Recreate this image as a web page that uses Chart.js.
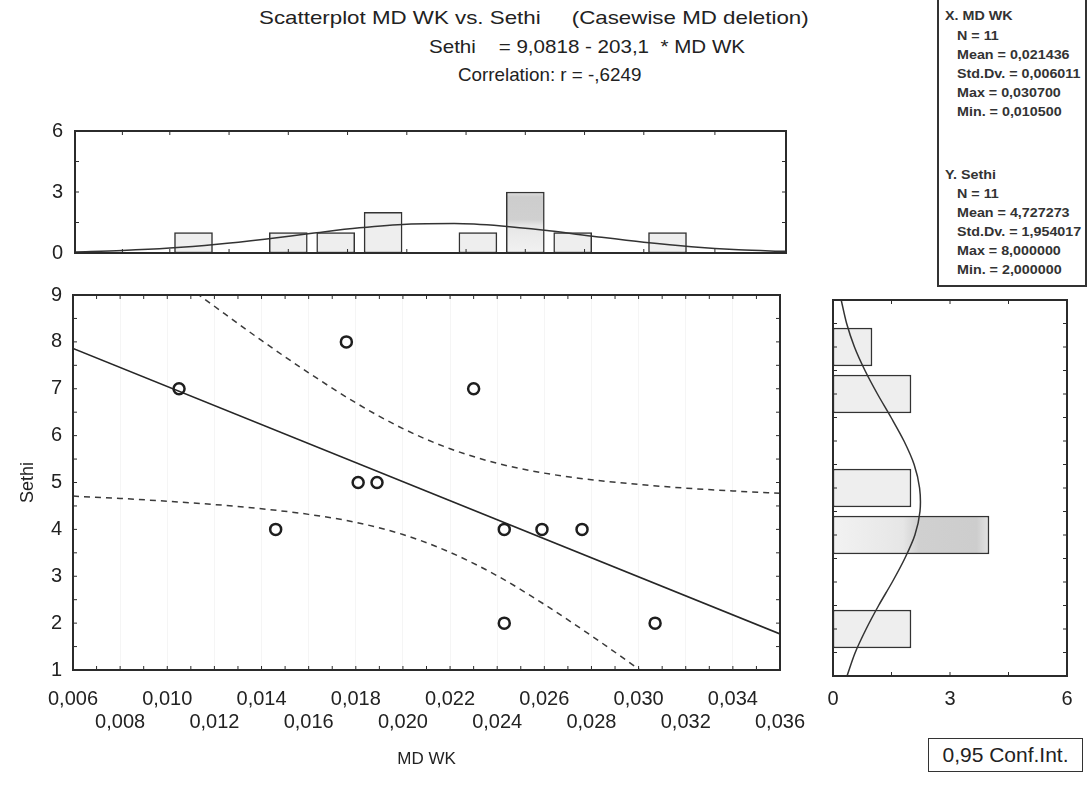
<!DOCTYPE html>
<html>
<head>
<meta charset="utf-8">
<script src="https://cdn.jsdelivr.net/npm/chart.js@4.4.1/dist/chart.umd.min.js"></script>
<style>
  html, body { margin: 0; padding: 0; background: #fff; }
  body { width: 1087px; height: 788px; position: relative; overflow: hidden;
         font-family: "Liberation Sans", Arial, sans-serif; color: #222; }
  .abs { position: absolute; white-space: pre; }
  .ttl { font-size: 19px; line-height: 20px; transform-origin: 0 50%; }
  #stats { left: 937px; top: -2px; width: 146px; height: 285px; border: 2px solid #333; }
  #stats div { position: absolute; font-size: 13.5px; font-weight: bold; color: #333; white-space: pre;
               transform-origin: 0 50%; transform: scaleX(1.06); }
  #conf { left: 928px; top: 738px; width: 153px; height: 32px; border: 1.5px solid #333;
          font-size: 21px; line-height: 32px; text-align: center; }
  canvas { position: absolute; }
</style>
</head>
<body>
<div class="abs ttl" data-w="550" style="left:259px; top:8px;">Scatterplot MD WK vs. Sethi     (Casewise MD deletion)</div>
<div class="abs ttl" data-w="316" style="left:429px; top:37px;">Sethi    = 9,0818 - 203,1  * MD WK</div>
<div class="abs ttl" data-w="183" style="left:458px; top:65px;">Correlation: r = -,6249</div>

<div id="stats" class="abs"></div>
<div id="conf" class="abs">0,95 Conf.Int.</div>

<canvas id="topHist" width="810" height="160" style="left:0; top:115px;"></canvas>
<canvas id="main" width="810" height="508" style="left:0; top:280px;"></canvas>
<canvas id="sideHist" width="272" height="508" style="left:815px; top:280px;"></canvas>

<script>
Chart.defaults.font.family = '"Liberation Sans", Arial, sans-serif';
Chart.defaults.color = '#222';
Chart.defaults.animation = false;

// --- data ---
const mdwk  = [0.0105, 0.0146, 0.0176, 0.0181, 0.0189, 0.0230, 0.0243, 0.0243, 0.0259, 0.0276, 0.0307];
const sethi = [7, 4, 8, 5, 5, 7, 4, 2, 4, 4, 2];

// regression line end points
const fitX = [0.006, 0.036];
const fitY = [7.86, 1.77];

// x grid used for the conf. bands and the top normal curve
const gridX = [0.006, 0.008, 0.010, 0.012, 0.014, 0.016, 0.018, 0.020,
               0.022, 0.024, 0.026, 0.028, 0.030, 0.032, 0.034, 0.036];
const upperCI = [11.01, 10.25, 9.50, 8.76, 8.03, 7.34, 6.70, 6.15,
                 5.72, 5.41, 5.20, 5.06, 4.96, 4.88, 4.82, 4.77];
const lowerCI = [4.71, 4.66, 4.60, 4.53, 4.44, 4.32, 4.15, 3.89,
                 3.51, 3.01, 2.40, 1.73, 1.02, 0.28, -0.47, -1.22];

// top histogram (MD WK)
const binMid   = [0.011, 0.015, 0.017, 0.019, 0.023, 0.025, 0.027, 0.031];
const binCount = [1, 1, 1, 2, 1, 3, 1, 1];
const topCurve = [0.05, 0.12, 0.24, 0.43, 0.68, 0.97, 1.24, 1.42,
                  1.45, 1.33, 1.09, 0.80, 0.53, 0.31, 0.16, 0.08];

// side histogram (Sethi)
const levels      = [2, 4, 5, 7, 8];
const levelCount  = [2, 4, 2, 2, 1];
const curveLevels = [1, 1.5, 2, 2.5, 3, 3.5, 4, 4.5, 5, 5.5, 6, 6.5, 7, 7.5, 8, 8.5, 9];
const sideCurve   = [0.36, 0.57, 0.85, 1.17, 1.52, 1.84, 2.10, 2.23, 2.22,
                     2.08, 1.82, 1.49, 1.14, 0.82, 0.55, 0.35, 0.21];

const statLines = [
  ['X. MD WK', 6, 8], ['N = 11', 18, 28], ['Mean = 0,021436', 18, 47], ['Std.Dv. = 0,006011', 18, 66],
  ['Max = 0,030700', 18, 85], ['Min. = 0,010500', 18, 104],
  ['Y. Sethi', 6, 167], ['N = 11', 18, 186], ['Mean = 4,727273', 18, 205], ['Std.Dv. = 1,954017', 18, 224],
  ['Max = 8,000000', 18, 243], ['Min. = 2,000000', 18, 262]
];
const statsBox = document.getElementById('stats');
statLines.forEach(([t, x, y]) => {
  const d = document.createElement('div');
  d.textContent = t;
  d.style.left = x + 'px';
  d.style.top = y + 'px';
  statsBox.appendChild(d);
});

// stretch the title lines to the width they have in the picture
document.querySelectorAll('.ttl').forEach(el => {
  el.style.transform = 'scaleX(' + (el.dataset.w / el.offsetWidth) + ')';
});

const comma = (v, n) => v.toFixed(n).replace('.', ',');
const pts = (xs, ys) => xs.map((x, i) => ({x: x, y: ys[i]}));

// box round the plot area with small inward tick marks
const frame = {
  id: 'frame',
  afterDatasetsDraw(chart) {
    const {ctx, chartArea: a} = chart;
    ctx.save();
    ctx.strokeStyle = '#2b2b2b';
    ctx.lineWidth = 1;
    ['x', 'y'].forEach(id => {
      const s = chart.scales[id];
      if (!s || !s.ticks.length) return;
      const vals = [];
      s.ticks.forEach((t, i) => {
        vals.push(t.value);
        if (i < s.ticks.length - 1) vals.push((t.value + s.ticks[i + 1].value) / 2);
      });
      vals.forEach(v => {
        const p = s.getPixelForValue(v);
        ctx.beginPath();
        if (id === 'x') {
          ctx.moveTo(p, a.bottom); ctx.lineTo(p, a.bottom - 4);
          ctx.moveTo(p, a.top); ctx.lineTo(p, a.top + 4);
        } else {
          ctx.moveTo(a.left, p); ctx.lineTo(a.left + 4, p);
          ctx.moveTo(a.right, p); ctx.lineTo(a.right - 4, p);
        }
        ctx.stroke();
      });
    });
    ctx.lineWidth = 2;
    ctx.strokeRect(a.left, a.top, a.right - a.left, a.bottom - a.top);
    ctx.restore();
  }
};

const noPad = s => { s.paddingLeft = 0; s.paddingRight = 0; s.paddingTop = 0; s.paddingBottom = 0; };

function barFill(horizontal, maxVal) {
  return ctx => {
    const chart = ctx.chart, a = chart.chartArea;
    const v = horizontal ? ctx.raw.x : ctx.raw.y;
    if (!a || v !== maxVal) return '#eeeeee';
    const g = horizontal
      ? chart.ctx.createLinearGradient(a.left, 0, chart.scales.x.getPixelForValue(maxVal), 0)
      : chart.ctx.createLinearGradient(0, a.bottom, 0, chart.scales.y.getPixelForValue(maxVal));
    g.addColorStop(0, '#f2f2f2');
    g.addColorStop(0.45, '#e6e6e6');
    g.addColorStop(0.55, '#d0d0d0');
    g.addColorStop(0.92, '#cdcdcd');
    g.addColorStop(1, '#e2e2e2');
    return g;
  };
}

// ---- top histogram ----
new Chart(document.getElementById('topHist'), {
  type: 'bar',
  data: {
    datasets: [
      { type: 'line', data: pts(gridX, topCurve), borderColor: '#333', borderWidth: 1.5,
        pointRadius: 0, cubicInterpolationMode: 'monotone', order: 0 },
      { data: pts(binMid, binCount), backgroundColor: barFill(false, 3), borderColor: '#333',
        borderWidth: 1.5, borderSkipped: false, barThickness: 38, order: 1 }
    ]
  },
  options: {
    responsive: false,
    layout: { padding: { top: 16, right: 24, bottom: 22, left: 0 } },
    plugins: { legend: { display: false }, tooltip: { enabled: false } },
    scales: {
      x: { type: 'linear', min: 0.006, max: 0.036, offset: false, display: false,
           grid: { offset: false } },
      y: { min: 0, max: 6, ticks: { stepSize: 3, padding: 12, font: { size: 20 } },
           grid: { display: false, drawTicks: false }, border: { display: false },
           afterFit(s) { s.width = 75; noPad(s); } }
    }
  },
  plugins: [frame]
});

// ---- scatterplot ----
new Chart(document.getElementById('main'), {
  type: 'scatter',
  data: {
    datasets: [
      { data: pts(mdwk, sethi), pointRadius: 5.5, pointBorderWidth: 2.5, borderColor: '#1e1e1e',
        backgroundColor: 'rgba(255,255,255,0)', order: 0 },
      { data: pts(fitX, fitY), showLine: true, pointRadius: 0, borderColor: '#262626',
        borderWidth: 1.6, order: 1 },
      { data: pts(gridX, upperCI), showLine: true, pointRadius: 0, borderColor: '#3a3a3a',
        borderWidth: 1.5, borderDash: [6, 5], cubicInterpolationMode: 'monotone', order: 2 },
      { data: pts(gridX, lowerCI), showLine: true, pointRadius: 0, borderColor: '#3a3a3a',
        borderWidth: 1.5, borderDash: [6, 5], cubicInterpolationMode: 'monotone', order: 3 }
    ]
  },
  options: {
    responsive: false,
    layout: { padding: { top: 15, right: 30, bottom: 18, left: 0 } },
    plugins: { legend: { display: false }, tooltip: { enabled: false } },
    scales: {
      x: { type: 'linear', min: 0.006, max: 0.036,
           afterBuildTicks(s) { s.ticks = gridX.map(v => ({ value: v })); },
           ticks: { autoSkip: false, maxRotation: 0, padding: 18, font: { size: 20, lineHeight: 1.15 },
                    callback: (v, i) => i % 2 === 0 ? [comma(v, 3)] : ['', comma(v, 3)] },
           grid: { color: 'rgba(0,0,0,0.04)', drawTicks: false }, border: { display: false },
           title: { display: true, text: 'MD WK', font: { size: 17 }, padding: { top: 0, bottom: 0 } },
           afterFit(s) { s.height = 100; noPad(s); } },
      y: { min: 1, max: 9, ticks: { stepSize: 1, padding: 11, font: { size: 20 } },
           grid: { display: false, drawTicks: false }, border: { display: false },
           title: { display: true, text: 'Sethi', font: { size: 18 }, padding: { top: 17, bottom: 0 } },
           afterFit(s) { s.width = 73; noPad(s); } }
    }
  },
  plugins: [frame]
});

// ---- side histogram ----
new Chart(document.getElementById('sideHist'), {
  type: 'bar',
  data: {
    datasets: [
      { type: 'line', data: pts(sideCurve, curveLevels), borderColor: '#333', borderWidth: 1.5,
        pointRadius: 0, tension: 0.3, indexAxis: 'y', order: 0 },
      { data: pts(levelCount, levels), backgroundColor: barFill(true, 4), borderColor: '#333',
        borderWidth: 1.5, borderSkipped: false, barThickness: 38, order: 1 }
    ]
  },
  options: {
    responsive: false,
    indexAxis: 'y',
    layout: { padding: { top: 20, right: 20, bottom: 62, left: 18 } },
    plugins: { legend: { display: false }, tooltip: { enabled: false } },
    scales: {
      x: { type: 'linear', min: 0, max: 6,
           ticks: { stepSize: 3, padding: 12, font: { size: 20, lineHeight: 1.15 } },
           grid: { display: false, drawTicks: false }, border: { display: false },
           afterFit(s) { s.height = 50; noPad(s); } },
      y: { type: 'linear', min: 1, max: 9, display: false, offset: false,
           ticks: { stepSize: 1 }, grid: { offset: false } }
    }
  },
  plugins: [frame]
});
</script>
</body>
</html>
